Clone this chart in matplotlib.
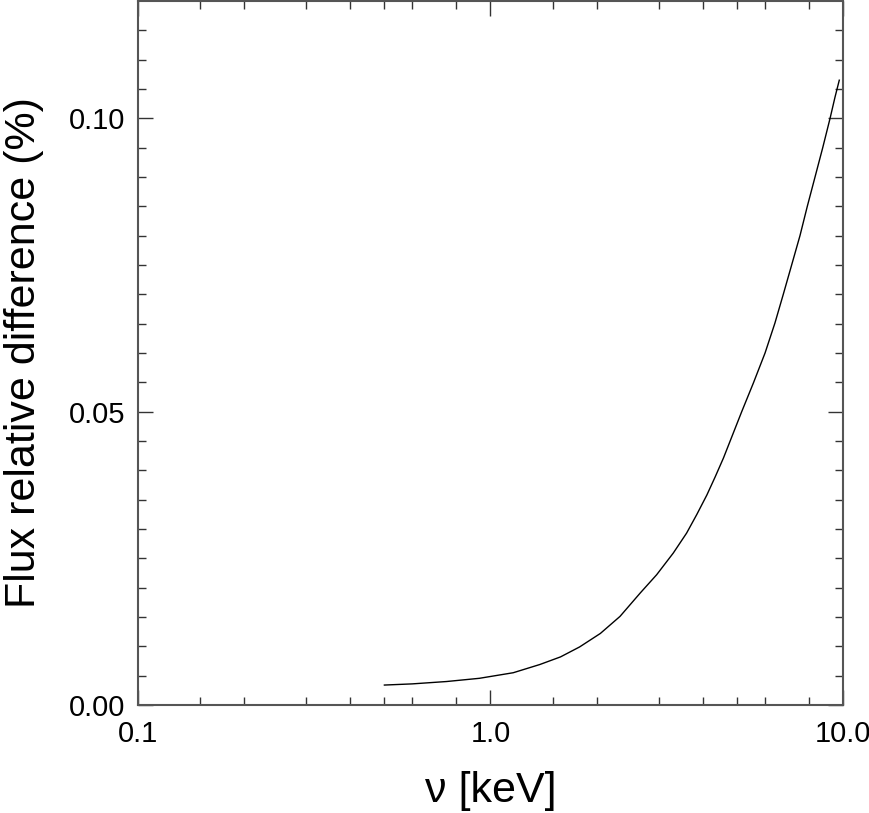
import numpy as np
import matplotlib.pyplot as plt
from matplotlib.ticker import FixedLocator, FixedFormatter, NullFormatter

# values
nu = [0.50, 0.60, 0.75, 0.93, 1.16, 1.38, 1.58, 1.79, 2.05, 2.33, 2.66,
      2.96, 3.30, 3.60, 3.85, 4.11, 4.34, 4.58, 5.16, 5.57, 6.01, 6.41,
      6.77, 7.15, 7.55, 7.92, 8.33, 8.76, 9.19, 9.49, 9.76]
flux_diff = [0.0034, 0.0036, 0.0040, 0.00455, 0.0055, 0.0069, 0.0082,
             0.0099, 0.0122, 0.0151, 0.0191, 0.0222, 0.0259, 0.0293,
             0.0325, 0.0358, 0.0389, 0.0421, 0.0500, 0.0549, 0.0600,
             0.0651, 0.0700, 0.0750, 0.0800, 0.0850, 0.0900, 0.0950,
             0.1000, 0.1036, 0.1065]

x_major = [0.1, 1.0, 10.0]
x_major_labels = ['0.1', '1.0', '10.0']
x_minor = [0.15, 0.2, 0.3, 0.4, 0.5, 0.6, 0.8,
           1.5, 2, 3, 4, 5, 6, 8]
y_major = [0.0, 0.05, 0.10]
y_major_labels = ['0.00', '0.05', '0.10']
y_minor = np.arange(0.005, 0.12, 0.005)

plt.rcParams['font.family'] = ['Liberation Sans', 'DejaVu Sans']

fig = plt.figure(figsize=(8.7, 8.13), dpi=100)
ax = fig.add_axes([138 / 870, 108 / 813, 705 / 870, 704 / 813])

ax.plot(nu, flux_diff, color='black', lw=1.0)

ax.set_xscale('log')
ax.set_xlim(0.1, 10.0)
ax.set_ylim(0.0, 0.12)

ax.xaxis.set_major_locator(FixedLocator(x_major))
ax.xaxis.set_major_formatter(FixedFormatter(x_major_labels))
ax.xaxis.set_minor_locator(FixedLocator(x_minor))
ax.xaxis.set_minor_formatter(NullFormatter())
ax.yaxis.set_major_locator(FixedLocator(y_major))
ax.yaxis.set_major_formatter(FixedFormatter(y_major_labels))
ax.yaxis.set_minor_locator(FixedLocator(y_minor))

for s in ax.spines.values():
    s.set_color('#555555')
    s.set_linewidth(1.5)

ax.tick_params(which='both', direction='in', top=True, right=True,
               color='#333333', width=1.0, labelsize=21)
ax.tick_params(which='major', length=10.5)
ax.tick_params(which='minor', length=6)
ax.tick_params(axis='x', which='major', pad=11)
ax.tick_params(axis='y', which='major', pad=9)

ax.set_xlabel(r'ν [keV]', fontsize=31, labelpad=16)
ax.set_ylabel('Flux relative difference (%)', fontsize=31, labelpad=18)

fig.savefig('out.png', dpi=100)
